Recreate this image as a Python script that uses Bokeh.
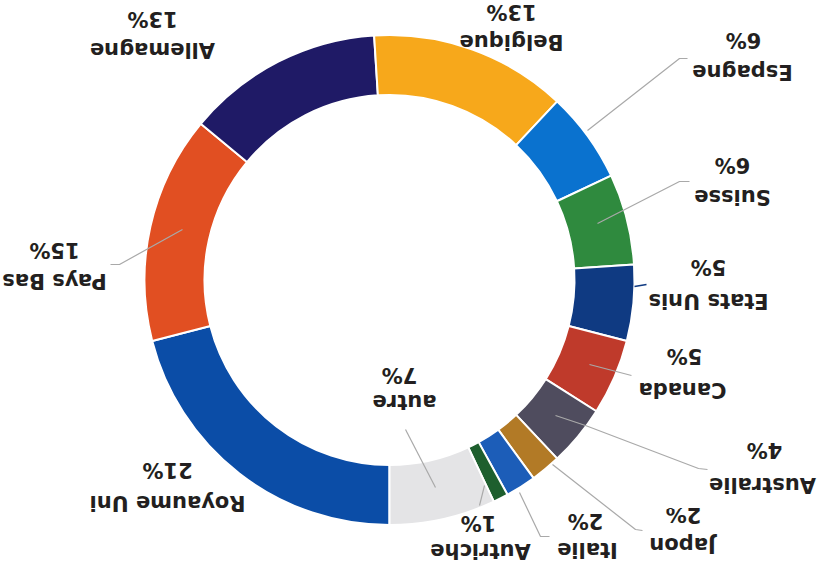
import math
from bokeh.plotting import figure
from bokeh.models import Range1d, ColumnDataSource
from bokeh.embed import file_html
from bokeh.resources import INLINE
from bokeh.core.properties import value

# ---- data ----
countries = ["Royaume Uni", "Pays Bas", "Allemagne", "Belgique", "Espagne", "Suisse",
             "Etats Unis", "Canada", "Australie", "Japon", "Italie", "Autriche", "autre"]
shares = [21, 15, 13, 13, 6, 6, 5, 5, 4, 2, 2, 1, 7]
pct_labels = ["21%", "15%", "13%", "13%", "6%", "6%", "5%", "5%", "4%", "2%", "2%", "1%", "7%"]
colors = ["#0B4DA7", "#E14F22", "#1F1A66", "#F7A81B", "#0A72CF", "#2F8A3E",
          "#0F3A82", "#BF3A2B", "#4F4C5E", "#B27A26", "#1C5DB8", "#1E5F2E", "#E4E4E6"]

# ---- layout (picture pixel coordinates, y downward) ----
W, H = 818, 566
DY = -4  # small upward shift so everything fits
def sy(y):
    return H - (y + DY)

CX, CY = 389, 283.5
R_OUT, R_IN = 245, 185

name_pos = [(167, 506), (54, 284), (152, 53), (511, 45), (742, 75), (732, 200),
            (708, 304), (682, 393), (762, 488), (682, 548), (587, 553), (480, 554), (404, 405)]
pct_pos = [(167, 473), (54, 253), (152, 22), (511, 15), (743, 43), (732, 168),
           (708, 270), (684, 359), (764, 453), (683, 518), (585, 524), (478, 526), (399, 378)]

leaders = [
    [(110, 268), (119, 268), (182, 233)],
    [(687, 62), (679, 62), (587, 134)],
    [(689, 185), (679, 185), (597, 227)],
    [(631, 379), (589, 368)],
    [(707, 473), (698, 472), (585, 429), (555, 419)],
    [(642, 534), (635, 533), (552, 468)],
    [(549, 540), (540, 540), (519, 496)],
    [(479, 509), (484, 489)],
    [(405, 433), (435, 491)],
]

# ---- wedges: start at bottom, clockwise ----
total = float(sum(shares))
starts, ends = [], []
cum = 0.0
for s in shares:
    f0 = cum / total
    cum += s
    f1 = cum / total
    starts.append(-math.pi / 2 - 2 * math.pi * f1)
    ends.append(-math.pi / 2 - 2 * math.pi * f0)

src = ColumnDataSource(dict(
    start=starts, end=ends, color=colors,
    x=[CX] * len(shares), y=[sy(CY)] * len(shares)))

p = figure(width=W, height=H, output_backend="svg", toolbar_location=None,
           x_range=Range1d(0, W), y_range=Range1d(0, H), min_border=0)
p.axis.visible = False
p.grid.visible = False
p.outline_line_color = None
p.background_fill_color = "white"
p.border_fill_color = "white"

p.annular_wedge(x="x", y="y", inner_radius=R_IN, outer_radius=R_OUT,
                start_angle="start", end_angle="end", direction="anticlock",
                fill_color="color", line_color="white", line_width=2, source=src)

for pts in leaders:
    p.line([q[0] for q in pts], [sy(q[1]) for q in pts], line_color="#A9A9A9", line_width=1.2)
p.line([634, 646], [sy(290), sy(288)], line_color="#0F3A82", line_width=1.5)

lab = ColumnDataSource(dict(
    nx=[q[0] for q in name_pos], ny=[sy(q[1]) for q in name_pos], name=countries,
    px=[q[0] for q in pct_pos], py=[sy(q[1]) for q in pct_pos], pct=pct_labels))
common = dict(angle=math.pi, text_align="center", text_baseline="middle",
              text_font=value("DejaVu Sans"), text_font_style="bold",
              text_font_size="21px", text_color="#231F20", source=lab)
p.text(x="nx", y="ny", text="name", **common)
p.text(x="px", y="py", text="pct", **common)

open("out.html", "w").write(file_html(p, INLINE))
